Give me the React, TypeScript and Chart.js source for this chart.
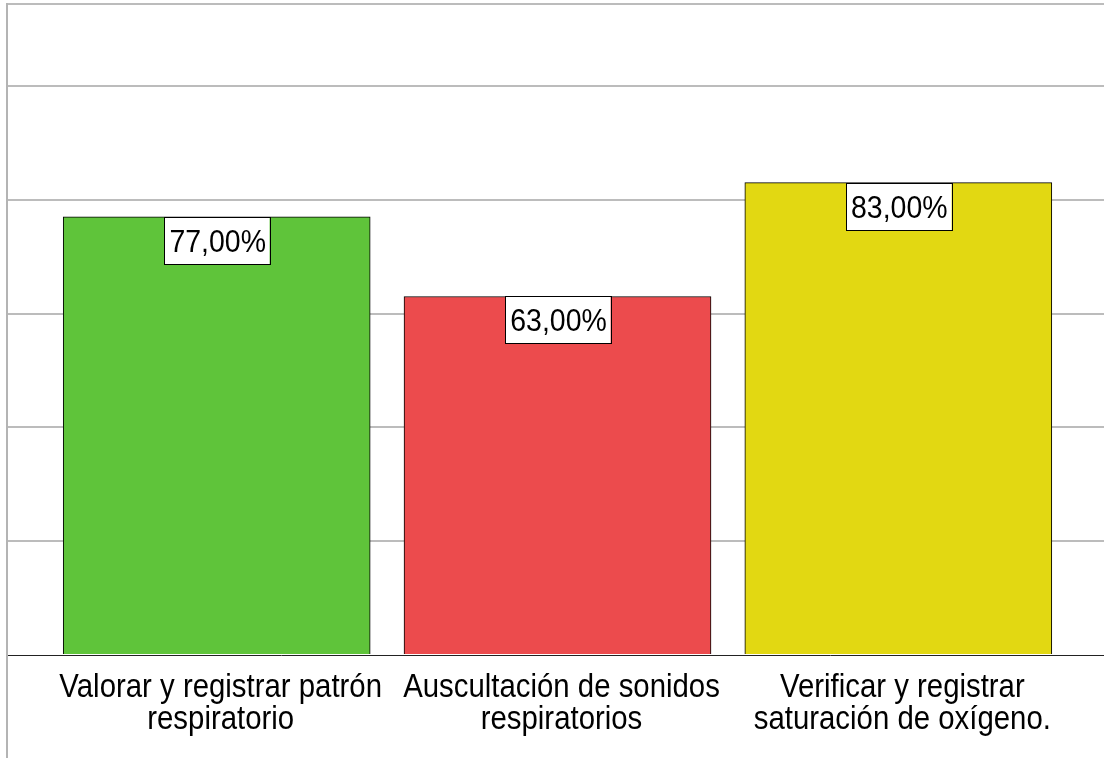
import React, { useEffect, useRef } from "react";
import { Chart, registerables } from "chart.js";

Chart.register(...registerables);

const categories: string[][] = [
  ["Valorar y registrar patrón", "respiratorio"],
  ["Auscultación de sonidos", "respiratorios"],
  ["Verificar y registrar", "saturación de oxígeno."],
];
const values: number[] = [77, 63, 83];
const valueLabels: string[] = ["77,00%", "63,00%", "83,00%"];
const barColors: string[] = ["#5fc43a", "#ec4b4d", "#e2d812"];
const yTicks: number[] = [0, 20, 40, 60, 80, 100];

const FONT = "'Liberation Sans', Arial, sans-serif";
const SQUISH = 0.89;

function drawSquished(ctx: CanvasRenderingContext2D, text: string, cx: number, y: number) {
  ctx.save();
  ctx.translate(cx, y);
  ctx.scale(SQUISH, 1);
  ctx.fillText(text, 0, 0);
  ctx.restore();
}

const labelPlugin = {
  id: "boxLabels",
  afterDatasetsDraw(chart: any) {
    const ctx = chart.ctx;
    const meta = chart.getDatasetMeta(0);
    ctx.save();
    ctx.font = `32px ${FONT}`;
    meta.data.forEach((bar: any, i: number) => {
      const text = valueLabels[i];
      const w = ctx.measureText(text).width * SQUISH + 9;
      const h = 47;
      const x = Math.round(bar.x - w / 2);
      const y = Math.round(bar.y);
      ctx.fillStyle = "#ffffff";
      ctx.fillRect(x, y, w, h);
      ctx.strokeStyle = "#000000";
      ctx.lineWidth = 1;
      ctx.strokeRect(x + 0.5, y + 0.5, Math.round(w), h);
      ctx.fillStyle = "#000000";
      ctx.textAlign = "center";
      ctx.textBaseline = "alphabetic";
      drawSquished(ctx, text, bar.x + 1, y + 35);
    });
    ctx.restore();
  },
  afterDraw(chart: any) {
    const ctx = chart.ctx;
    const a = chart.chartArea;
    ctx.save();
    ctx.strokeStyle = "#b4b4b4";
    ctx.lineWidth = 2;
    ctx.beginPath();
    ctx.moveTo(a.left, a.top - 1);
    ctx.lineTo(a.left, chart.height);
    ctx.stroke();
    // category labels under the axis
    const xs = chart.scales.x;
    ctx.fillStyle = "#000000";
    ctx.font = `33px ${FONT}`;
    ctx.textAlign = "center";
    ctx.textBaseline = "alphabetic";
    categories.forEach((lines, i) => {
      const cx = xs.getPixelForValue(i) + 4;
      lines.forEach((line, j) => {
        drawSquished(ctx, line, cx, a.bottom + 42 + j * 32);
      });
    });
    ctx.restore();
  },
};

export default function App() {
  const ref = useRef<HTMLCanvasElement>(null);
  useEffect(() => {
    const chart = new Chart(ref.current as HTMLCanvasElement, {
      type: "bar",
      data: {
        datasets: [
          {
            data: values.map((v, i) => ({ x: i, y: v })),
            backgroundColor: barColors,
            borderColor: "#000000",
            borderWidth: 1,
            barThickness: 307,
          },
        ],
      },
      options: {
        animation: false,
        responsive: false,
        layout: { padding: { left: 7, top: 4, right: 0, bottom: 0 } },
        plugins: { legend: { display: false }, tooltip: { enabled: false } },
        scales: {
          x: {
            type: "linear",
            offset: false,
            min: -0.6153,
            max: 2.6035,
            afterBuildTicks: (axis: any) => {
              axis.ticks = [0, 1, 2].map((v) => ({ value: v }));
            },
            afterFit: (scale: any) => {
              scale.height = 103;
            },
            grid: { display: false, drawTicks: false, offset: false },
            border: { display: true, color: "#222222", width: 1 },
            ticks: { display: false },
          },
          y: {
            min: 0,
            max: 114.4,
            afterBuildTicks: (axis: any) => {
              axis.ticks = [...yTicks, 114.4].map((v) => ({ value: v }));
            },
            afterFit: (scale: any) => {
              scale.width = 0;
            },
            ticks: { display: false },
            grid: {
              drawTicks: false,
              tickLength: 0,
              lineWidth: 2,
              color: (c: any) => (c.tick && c.tick.value === 0 ? "rgba(0,0,0,0)" : "#bcbcbc"),
            },
            border: { display: false },
          },
        },
      },
      plugins: [labelPlugin],
    } as any);
    return () => chart.destroy();
  }, []);
  return (
    <div style={{ position: "fixed", left: 0, top: 0, width: 1104, height: 758, background: "#fff" }}>
      <canvas ref={ref} width={1104} height={758} style={{ display: "block" }} />
    </div>
  );
}
